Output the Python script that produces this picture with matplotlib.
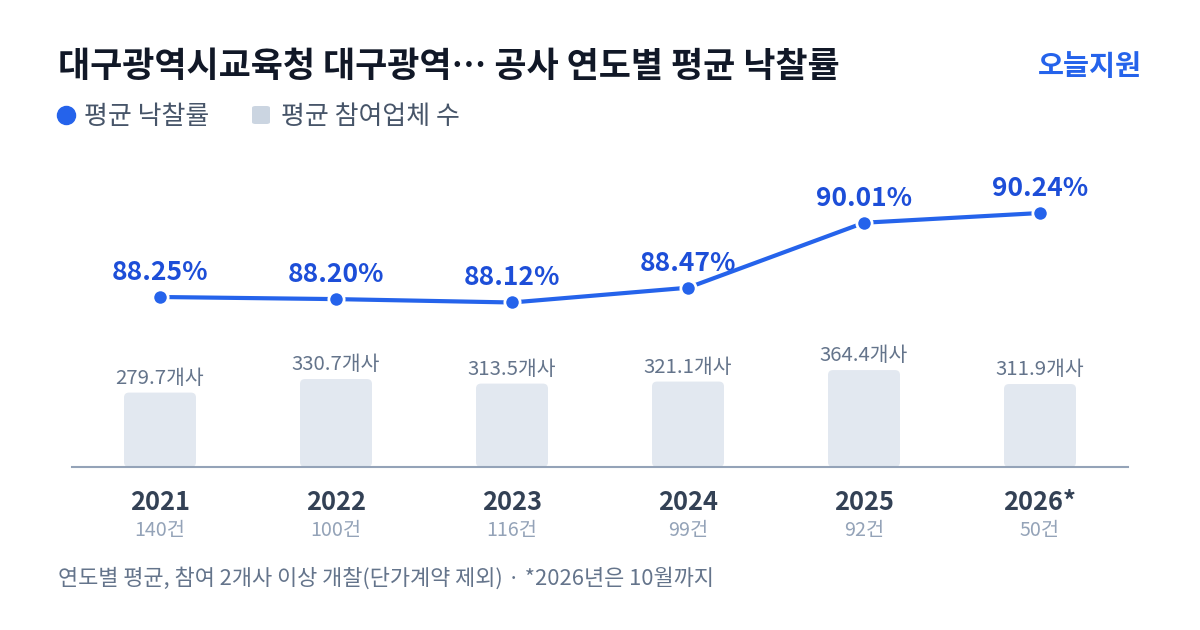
import matplotlib
matplotlib.use("Agg")
import matplotlib.pyplot as plt
from matplotlib.patches import FancyBboxPatch

plt.rcParams['font.family'] = ['Noto Sans CJK KR', 'DejaVu Sans']

# data
anos = ["2021", "2022", "2023", "2024", "2025", "2026*"]
casos = ["140건", "100건", "116건", "99건", "92건", "50건"]
taxa = [88.25, 88.20, 88.12, 88.47, 90.01, 90.24]
empresas = [279.7, 330.7, 313.5, 321.1, 364.4, 311.9]

titulo = "대구광역시교육청 대구광역… 공사 연도별 평균 낙찰률"
marca = "오늘지원"
nota = "연도별 평균, 참여 2개사 이상 개찰(단가계약 제외) · *2026년은 10월까지"

azul = "#2563eb"
azul_txt = "#1d4ed8"
W, H = 1200, 630

fig = plt.figure(figsize=(12, 6.3), dpi=100)
fig.patch.set_facecolor("white")

# axes in pixel layout: x 72..1128, y 150..467 (from top)
top_px, base_px = 150, 467
ax = fig.add_axes([72 / W, (H - base_px) / H, 1056 / W, (base_px - top_px) / H])
ax.set_xlim(-0.5, len(anos) - 0.5)
ax.set_ylim(0, (base_px - top_px) / 0.266)
ax.axis("off")

# bars with rounded corners
x = list(range(len(anos)))
barras = ax.bar(x, empresas, width=72 / 176, color="none")
px_x = 176.0
px_y = 0.266
for b in barras:
    r = FancyBboxPatch((b.get_x(), 0), b.get_width(), b.get_height(),
                       boxstyle="round,pad=0,rounding_size=%f" % (5 / px_x),
                       mutation_aspect=px_x / px_y,
                       facecolor="#e2e8f0", edgecolor="none", zorder=1)
    ax.add_patch(r)
for i, v in enumerate(empresas):
    ax.annotate(f"{v:.1f}개사", (i, v), xytext=(0, 2.8), textcoords="offset points",
                ha="center", va="bottom", fontsize=14.7, color="#64748b")

ax.axhline(0, color="#94a3b8", lw=1.5, zorder=3, clip_on=False)

# line on twin axis
ax2 = ax.twinx()
ax2.set_xlim(-0.5, len(anos) - 0.5)
ax2.set_ylim(88.25 - (base_px - 297) / 42.2, 88.25 + (297 - top_px) / 42.2)
ax2.axis("off")
ax2.plot(x, taxa, color=azul, lw=3, marker="o", ms=11, mfc=azul,
         mec="white", mew=2, zorder=5, solid_capstyle="round")
for i, v in enumerate(taxa):
    ax2.annotate(f"{v:.2f}%", (i, v), xytext=(0, 8), textcoords="offset points",
                 ha="center", va="bottom", fontsize=19, fontweight="bold",
                 color=azul_txt)

# x labels
for i in x:
    ax.annotate(anos[i], (i, 0), xytext=(0, -15.5), textcoords="offset points",
                ha="center", va="top", fontsize=18.3, fontweight="bold",
                color="#334155", annotation_clip=False)
    ax.annotate(casos[i], (i, 0), xytext=(0, -38.5), textcoords="offset points",
                ha="center", va="top", fontsize=14.2, color="#94a3b8",
                annotation_clip=False)

# title, brand, legend, footnote
fig.text(58 / W, 1 - 66.5 / H, titulo, fontsize=25.2, fontweight="bold",
         color="#111827", va="center", ha="left")
fig.text(1142 / W, 1 - 66.5 / H, marca, fontsize=20.4, fontweight="bold",
         color=azul, va="center", ha="right")

fig.lines.append(plt.Line2D([66 / W], [1 - 115 / H], marker="o", ms=13,
                            color=azul, transform=fig.transFigure))
fig.text(84 / W, 1 - 116 / H, "평균 낙찰률", fontsize=18.7, color="#475569",
         va="center", ha="left")
fig.patches.append(FancyBboxPatch((252 / W, 1 - 124 / H), 18 / W, 18 / H,
                                  boxstyle="round,pad=0,rounding_size=0.003",
                                  facecolor="#cbd5e1", edgecolor="none",
                                  transform=fig.transFigure))
fig.text(281 / W, 1 - 116 / H, "평균 참여업체 수", fontsize=18.7, color="#475569",
         va="center", ha="left")

fig.text(58 / W, 1 - 578 / H, nota, fontsize=15.8, color="#64748b",
         va="center", ha="left")

fig.savefig("out.png", dpi=100, facecolor="white")
